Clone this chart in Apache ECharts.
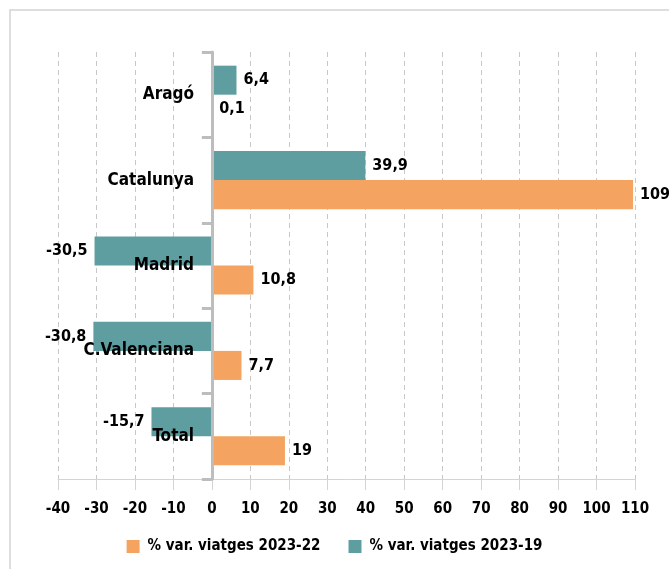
<!DOCTYPE html>
<html>
<head>
<meta charset="utf-8">
<script src="https://cdn.jsdelivr.net/npm/echarts@6/dist/echarts.min.js"></script>
<style>
  html, body { margin: 0; padding: 0; background: #fff; }
  #chart { width: 669px; height: 569px; }
</style>
</head>
<body>
<div id="chart"></div>
<script>
// regions, top to bottom
var categories = ['Aragó', 'Catalunya', 'Madrid', 'C.Valenciana', 'Total'];
// % var. viatges 2023-19
var var2319 = [6.4, 39.9, -30.5, -30.8, -15.7];
// % var. viatges 2023-22
var var2322 = [0.1, 109.5, 10.8, 7.7, 19];
var names = ['% var. viatges 2023-22', '% var. viatges 2023-19'];

var font = "'DejaVu Sans Condensed', 'Liberation Sans Narrow', sans-serif";

function fmt(p) {
    return String(p.value).replace('.', ',');
}

// negative values get their label on the left side of the bar
function withSide(arr) {
    return arr.map(function (v) {
        return v < 0 ? { value: v, label: { position: 'left' } } : v;
    });
}

var labelStyle = {
    show: true, position: 'right', distance: 7, formatter: fmt,
    fontFamily: font, fontSize: 16, fontWeight: 'bold', color: '#000'
};

var chart = echarts.init(document.getElementById('chart'));

chart.setOption({
    animation: false,
    textStyle: { fontFamily: font },
    graphic: [{
        type: 'rect',
        shape: { x: 10, y: 10, width: 700, height: 600 },
        style: { fill: 'none', stroke: '#d4d4d4', lineWidth: 1.5 },
        silent: true
    }],
    grid: { left: 58, right: 34, top: 52, bottom: 90, containLabel: false, outerBoundsMode: 'none' },
    legend: {
        data: names,
        bottom: 10,
        left: 'center',
        itemWidth: 13,
        itemHeight: 13,
        itemGap: 28,
        icon: 'rect',
        textStyle: { fontFamily: font, fontSize: 15, fontWeight: 'bold', color: '#000', padding: [0, 0, 0, 3] }
    },
    xAxis: {
        type: 'value',
        min: -40,
        max: 110,
        interval: 10,
        axisLine: { show: true, lineStyle: { color: '#d4d4d4', width: 1 } },
        axisTick: { show: true, length: 11, lineStyle: { color: '#d4d4d4' } },
        axisLabel: { margin: 23, fontFamily: font, fontSize: 15, fontWeight: 'bold', color: '#000' },
        splitLine: { show: true, lineStyle: { color: '#c8c8c8', type: [5, 4] } }
    },
    yAxis: {
        type: 'category',
        data: categories,
        inverse: true,
        z: 5,
        axisLine: { onZero: true, lineStyle: { color: '#bdbdbd', width: 3 } },
        axisTick: { show: true, length: 10, lineStyle: { color: '#bdbdbd', width: 3 } },
        // labels stay at the grid edge, pull them over to the zero line
        axisLabel: { margin: -136, fontFamily: font, fontSize: 17, fontWeight: 'bold', color: '#000' }
    },
    series: [{
        name: names[1],
        type: 'bar',
        data: withSide(var2319),
        barGap: '0%',
        barCategoryGap: '32%',
        itemStyle: { color: '#5f9ea0' },
        label: labelStyle
    }, {
        name: names[0],
        type: 'bar',
        data: withSide(var2322),
        barGap: '0%',
        barCategoryGap: '32%',
        itemStyle: { color: '#f4a460' },
        label: labelStyle
    }]
});
</script>
</body>
</html>
